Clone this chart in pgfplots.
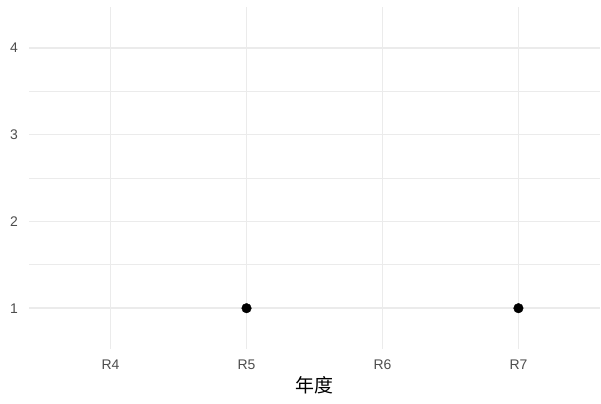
\documentclass[border=0pt]{standalone}
\usepackage{fontspec}
\setmainfont{Liberation Sans}
\newfontfamily\cjk{Noto Sans CJK SC}
\usepackage{pgfplots}
\pgfplotsset{compat=1.18}
\definecolor{gridc}{HTML}{EBEBEB}
\definecolor{tickc}{HTML}{4D4D4D}
\begin{document}
\begin{tikzpicture}[x=1bp,y=1bp]
\useasboundingbox (0,0) rectangle (601,403);
\begin{axis}[
  at={(29bp,54bp)}, anchor=south west,
  scale only axis, width=571bp, height=342bp,
  xmin=-0.6, xmax=3.6, ymin=0.53, ymax=4.47,
  xtick={0,1,2,3}, xticklabels={R4,R5,R6,R7},
  ytick={1,2,3,4}, minor ytick={1.5,2.5,3.5},
  grid=both,
  major grid style={color=gridc, line width=1.6bp},
  minor grid style={color=gridc, line width=0.8bp},
  axis line style={draw=none},
  major tick length=0pt, minor tick length=0pt,
  /pgf/number format/assume math mode=true,
  tick label style={font=\fontsize{14}{14}\selectfont, text=tickc},
  yticklabel style={anchor=east, inner sep=0pt, xshift=-11bp},
  xticklabel style={anchor=north, inner sep=0pt, yshift=-11bp},
  xlabel={\cjk 年度},
  xlabel style={at={(axis description cs:0.5,0)}, anchor=center, inner sep=0pt, yshift=-36bp, font=\fontsize{19}{19}\selectfont},
  clip=false,
]
\addplot[only marks, mark=*, mark size=4.8bp, color=black] coordinates {(1,1) (3,1)};
\end{axis}
\end{tikzpicture}
\end{document}
